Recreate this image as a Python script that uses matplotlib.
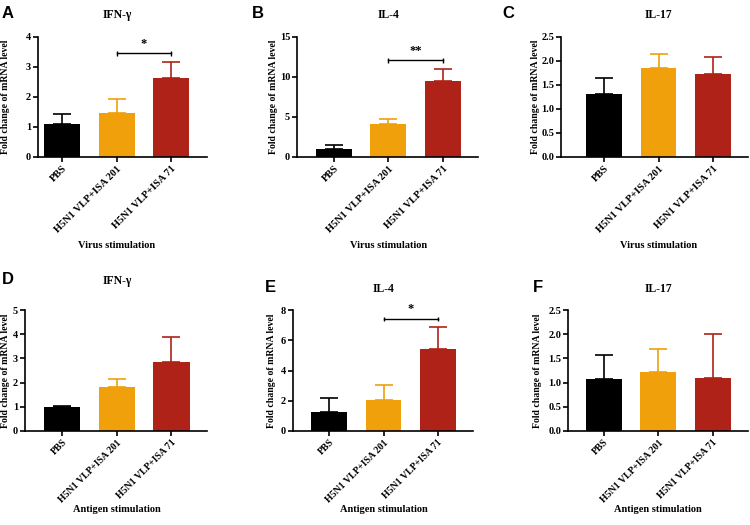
import matplotlib
matplotlib.use("Agg")
import matplotlib.pyplot as plt
import numpy as np

W, H = 750, 525

groups = ["PBS", "H5N1 VLP+ISA 201", "H5N1 VLP+ISA 71"]
colors = ["#000000", "#EFA00B", "#AE2218"]

letters = ["A", "B", "C", "D", "E", "F"]
titles = ["IFN-γ", "IL-4", "IL-17", "IFN-γ", "IL-4", "IL-17"]
xlabels = ["Virus stimulation"] * 3 + ["Antigen stimulation"] * 3

means = [
    [1.10, 1.48, 2.63],
    [1.00, 4.10, 9.45],
    [1.32, 1.85, 1.72],
    [1.00, 1.80, 2.85],
    [1.28, 2.05, 5.45],
    [1.07, 1.21, 1.09],
]
errs = [
    [0.32, 0.45, 0.55],
    [0.45, 0.70, 1.50],
    [0.33, 0.30, 0.37],
    [0.03, 0.35, 1.05],
    [0.92, 0.97, 1.45],
    [0.51, 0.48, 0.91],
]
ymax = [4, 15, 2.5, 5, 8, 2.5]
ystep = [1, 5, 0.5, 1, 2, 0.5]
yfmt = ["{:.0f}", "{:.0f}", "{:.1f}", "{:.0f}", "{:.0f}", "{:.1f}"]

# significance brackets: panel -> (y of bar line, label)
sig = {0: (3.46, "*"), 1: (12.1, "**"), 4: (7.4, "*")}

# layout in pixels: spine x, axis end x, top y, bottom y, xlim left
boxes = [
    (38, 207, 37, 157, -0.44),
    (297, 478, 37, 157, -0.68),
    (561, 748, 37, 157, -0.80),
    (25, 207, 310, 431, -0.68),
    (293, 473, 310, 431, -0.67),
    (568, 748, 310, 431, -0.66),
]
ylab_x = [6, 273, 536, 6, 272, 538]
title_y = [15, 15, 15, 281, 289, 289]
xlab_y = [245, 245, 245, 510, 510, 510]
xtick_size = [7.5, 7.5, 7.5, 7, 7, 7]
letter_xy = [(2, 13), (252, 13), (502, 13), (2, 280), (265, 288), (533, 287)]

serif = "Liberation Serif"

fig = plt.figure(figsize=(W / 100, H / 100), dpi=100)

for i in range(6):
    l, r, t, b, x0 = boxes[i]
    ax = fig.add_axes([l / W, 1 - b / H, (r - l) / W, (b - t) / H])
    x = np.arange(3)
    ax.bar(x, means[i], width=0.66, color=colors, zorder=2)
    for j in range(3):
        ax.errorbar(x[j], means[i][j], yerr=[[0], [errs[i][j]]], color=colors[j],
                    capsize=6.5, elinewidth=1.2, capthick=1.2, zorder=1)
    ax.set_xlim(x0, 2.65)
    ax.set_ylim(0, ymax[i])
    ticks = np.arange(0, ymax[i] + 1e-9, ystep[i])
    ax.set_yticks(ticks)
    ax.set_yticklabels([yfmt[i].format(v) for v in ticks], fontfamily=serif,
                       fontweight="bold", fontsize=7.5)
    ax.set_xticks(x)
    ax.set_xticklabels(groups, rotation=45, ha="right", rotation_mode="anchor",
                       fontfamily=serif, fontweight="bold", fontsize=xtick_size[i])
    for s in ["top", "right"]:
        ax.spines[s].set_visible(False)
    for s in ["left", "bottom"]:
        ax.spines[s].set_linewidth(1.2)
    ax.tick_params(direction="out", length=3.5, width=1.2, pad=1.5)

    ax.set_ylabel("Fold change of mRNA level", fontfamily=serif, fontweight="bold",
                  fontsize=7, va="center")
    ax.yaxis.set_label_coords((ylab_x[i] - l) / (r - l), 0.5)

    # title and x label centred on the middle bar
    trans = ax.get_xaxis_transform()
    ax.annotate(titles[i], xy=(1, 1), xycoords=trans,
                xytext=(0, (t - title_y[i]) * 0.72), textcoords="offset points",
                ha="center", va="center", fontfamily=serif, fontweight="bold",
                fontsize=8.5)
    ax.annotate(xlabels[i], xy=(1, 0), xycoords=trans,
                xytext=(0, -(xlab_y[i] - b) * 0.72), textcoords="offset points",
                ha="center", va="center", fontfamily=serif, fontweight="bold",
                fontsize=7.5, annotation_clip=False)

    if i in sig:
        yl, lab = sig[i]
        ax.errorbar([1, 2], [yl, yl], yerr=ymax[i] * 0.02, color="black",
                    lw=1.0, capsize=0, elinewidth=1.0, clip_on=False)
        ax.text(1.5, yl + ymax[i] * 0.03, lab, ha="center", va="bottom",
                fontfamily=serif, fontweight="bold", fontsize=9, clip_on=False)

    fig.text(letter_xy[i][0] / W, 1 - letter_xy[i][1] / H, letters[i],
             fontfamily="Liberation Sans", fontweight="bold", fontsize=12,
             ha="left", va="center")

fig.savefig("out.png", dpi=100, facecolor="white")
